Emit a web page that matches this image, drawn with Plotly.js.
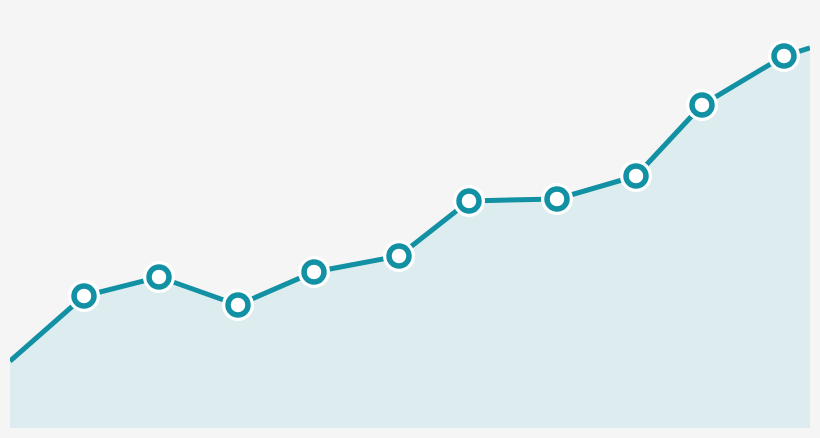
<!DOCTYPE html>
<html>
<head>
<meta charset="utf-8">
<script src="https://cdn.plot.ly/plotly-3.0.1.min.js"></script>
<style>html,body{margin:0;padding:0;background:#f5f5f5;}#chart{width:820px;height:438px;}</style>
</head>
<body>
<div id="chart"></div>
<script>
// x positions (horizontal units) and values
var lineX = [10, 84, 159, 238, 314, 399, 469, 557, 636, 702, 784, 810];
var lineY = [67, 132, 151, 123, 156, 172, 227, 229, 252, 323, 372, 380];
var pointX = [84, 159, 238, 314, 399, 469, 557, 636, 702, 784];
var pointY = [132, 151, 123, 156, 172, 227, 229, 252, 323, 372];

var teal = '#1291a4';
var data = [
  {x: lineX, y: lineY, type: 'scatter', mode: 'lines', fill: 'tozeroy',
   fillcolor: '#ddecee', line: {color: teal, width: 5}, hoverinfo: 'skip'},
  {x: pointX, y: pointY, type: 'scatter', mode: 'markers', cliponaxis: false,
   marker: {size: 32, color: '#ffffff', line: {width: 0}}, hoverinfo: 'skip'},
  {x: pointX, y: pointY, type: 'scatter', mode: 'markers', cliponaxis: false,
   marker: {size: 20, color: '#ffffff', line: {color: teal, width: 5.5}}}
];
var layout = {
  width: 820, height: 438,
  margin: {l: 10, r: 10, t: 0, b: 10},
  paper_bgcolor: '#f5f5f5', plot_bgcolor: '#f5f5f5',
  showlegend: false,
  xaxis: {range: [10, 810], visible: false, fixedrange: true},
  yaxis: {range: [0, 428], visible: false, fixedrange: true}
};
Plotly.newPlot('chart', data, layout, {displayModeBar: false, staticPlot: true});
</script>
</body>
</html>
